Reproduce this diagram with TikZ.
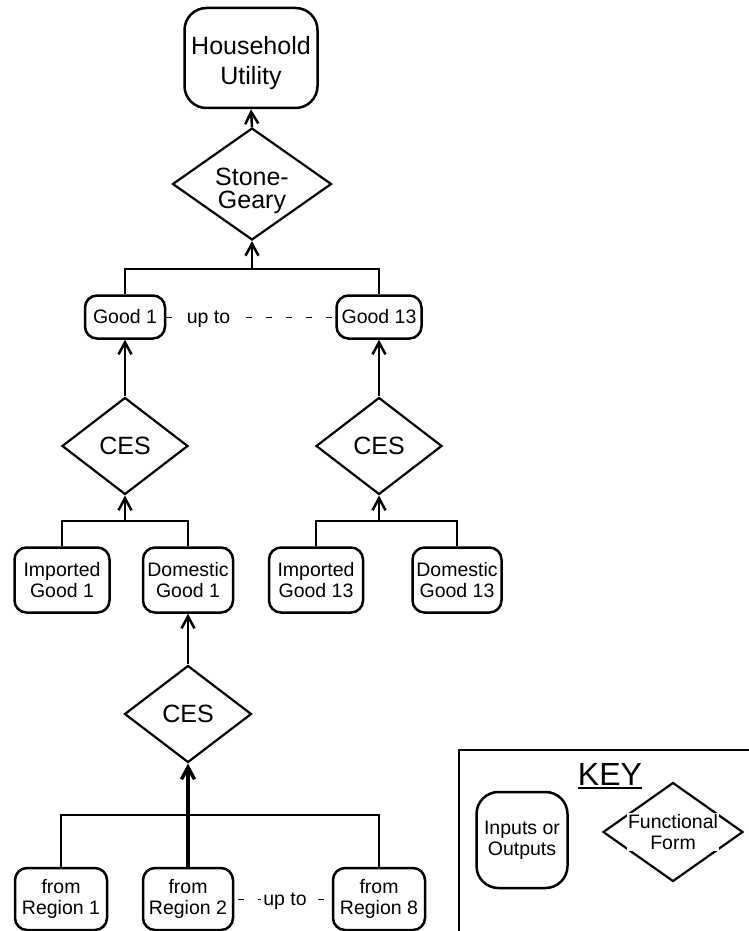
\documentclass[tikz,border=0pt]{standalone}
\usepackage{fontspec}
\setmainfont{Liberation Sans}
\usepackage{tikz}
\usetikzlibrary{shapes.geometric, arrows.meta, positioning, calc}
\newcommand{\iofont}{\fontsize{19.5}{21}\selectfont}
\newcommand{\formfont}{\fontsize{25}{23}\selectfont}
\newcommand{\topfont}{\fontsize{25}{30}\selectfont}
\newcommand{\keyfont}{\fontsize{32}{34}\selectfont}

\begin{document}
\begin{tikzpicture}[
    x=1pt, y=-1pt,
    io/.style={rectangle, draw, line width=2.5pt, rounded corners=12pt,
               minimum width=90pt, minimum height=65pt, inner xsep=3pt,
               align=center, font=\iofont},
    form/.style={diamond, draw, line width=2.2pt, inner sep=0pt,
                 minimum width=126pt, minimum height=97pt, align=center, font=\formfont},
    link/.style={line width=2.5pt},
    arrow/.style={link, -{Straight Barb[length=12pt, width=13pt]}},
    dots/.style={line width=1pt, dash pattern=on 6pt off 14pt},
    uptext/.style={fill=white, inner sep=2pt, font=\iofont, yshift=-2pt}
]
\useasboundingbox (0,0) rectangle (749,931);

% Top level
\node[io, font=\topfont, text height=58pt, rounded corners=22pt, minimum width=133pt, minimum height=100pt]
    (hhu) at (251,58) {Household\\Utility};
\node[form, minimum width=159pt, minimum height=112pt,
      label={[font=\formfont, align=center, yshift=-7pt]center:Stone-\\Geary}]
    (stone) at (252,184) {};
\coordinate (bar1) at (252,269);

% Goods
\node[io, minimum width=80pt, minimum height=43pt] (good1) at (125,317) {Good 1};
\node[io, minimum width=85pt, minimum height=43pt] (good13) at (379,317) {Good 13};
\node[form] (ces1) at (125,446) {CES};
\node[form] (ces13) at (379,446) {CES};
\coordinate (bar2) at (125,521);
\coordinate (bar4) at (379,521);

\node[io, minimum width=95pt] (imp1) at (62,580) {Imported\\Good 1};
\node[io] (dom1) at (188,580) {Domestic\\Good 1};
\node[io, minimum width=94pt] (imp13) at (316,580) {Imported\\Good 13};
\node[io, minimum width=89pt] (dom13) at (457,580) {Domestic\\Good 13};

% Regions
\node[form, minimum width=127pt] (ces2) at (188,714) {CES};
\coordinate (bar3) at (188,815);
\node[io, minimum width=92pt, minimum height=62pt] (reg1) at (61,899) {from\\Region 1};
\node[io, minimum height=62pt] (reg2) at (188,899) {from\\Region 2};
\node[io, minimum width=92pt, minimum height=62pt] (reg8) at (379,899) {from\\Region 8};

% Arrows
\draw[arrow] (stone.north) -- (hhu.south);
\draw[link] (good1.north) |- (bar1) -| (good13.north);
\draw[arrow] (bar1) -- (stone.south);
\draw[arrow] (ces1.north) -- (good1.south);
\draw[arrow] (ces13.north) -- (good13.south);
\draw[link] (imp1.north) |- (bar2) -| (dom1.north);
\draw[arrow] (bar2) -- (ces1.south);
\draw[link] (imp13.north) |- (bar4) -| (dom13.north);
\draw[arrow] (bar4) -- (ces13.south);
\draw[arrow] (ces2.north) -- (dom1.south);
\draw[link] (reg1.north) |- (bar3) -| (reg8.north);
\draw[link, line width=3.5pt] (reg2.north) -- (bar3);
\draw[arrow, line width=3.5pt] (bar3) -- (ces2.south);

% Up to
\draw[dots] (good1.east) -- node[pos=0.25, uptext] {up to} (good13.west);
\draw[dots, dash phase=16pt] (reg2.east) -- node[pos=0.52, uptext] {up to} (reg8.west);

% Key
\draw[link] (749,750) -| (459,931);
\node[font=\keyfont, inner sep=0pt, anchor=base] (keytitle) at (610,785) {KEY};
\draw[line width=1.5pt] ([yshift=-3pt]keytitle.base west) -- ([yshift=-3pt]keytitle.base east);
\node[io, rounded corners=22pt, minimum width=91pt, minimum height=96pt] (keyio) at (522,840) {Inputs or\\Outputs};
\node[form, minimum width=140pt, minimum height=99pt,
      label={[font=\iofont, align=center, fill=white, inner sep=1pt]center:Functional\\Form}]
    (keyform) at (673,832) {};

\end{tikzpicture}
\end{document}
